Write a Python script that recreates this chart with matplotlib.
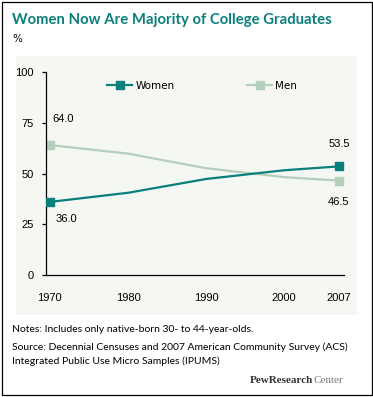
import matplotlib
matplotlib.use("Agg")
import matplotlib.pyplot as plt
from matplotlib.patches import Rectangle

years = [1970, 1980, 1990, 2000, 2007]
women = [36.0, 40.5, 47.3, 51.6, 53.5]
men = [64.0, 59.8, 52.6, 48.2, 46.5]
yticks = [0, 25, 50, 75, 100]

TEAL = "#0a7f7c"
SAGE = "#b4d0bc"
PANEL = "#f5f7f2"

W, H = 373, 397
fig = plt.figure(figsize=(W / 100, H / 100), dpi=100)


def fx(px):
    return px / W


def fy(py):
    return 1 - py / H


# outer frame + light panel behind the plot
fig.add_artist(Rectangle((fx(2), fy(395)), fx(370), (393) / H, transform=fig.transFigure,
                         fill=False, edgecolor="black", linewidth=0.9))
fig.add_artist(Rectangle((fx(16), fy(315)), fx(341), 259 / H, transform=fig.transFigure,
                         facecolor=PANEL, edgecolor="none", zorder=0))

ax = fig.add_axes([fx(46), fy(275), fx(298), 203 / H])
ax.set_facecolor("none")

ax.plot(years, women, color=TEAL, linewidth=1.6, marker="s", markersize=5.5,
        markevery=[0, len(years) - 1], label="Women", zorder=3)
ax.plot(years, men, color=SAGE, linewidth=1.6, marker="s", markersize=5.5,
        markevery=[0, len(years) - 1], label="Men", zorder=2)

ax.set_xlim(1969.5, 2007.65)
ax.set_ylim(0, 100)
ax.set_yticks(yticks)
ax.set_xticks(years)
for s in ["top", "right"]:
    ax.spines[s].set_visible(False)
ax.spines["left"].set_linewidth(0.9)
ax.spines["bottom"].set_linewidth(0.9)
ax.tick_params(axis="y", length=3, width=0.9, pad=6, labelsize=8)
ax.tick_params(axis="x", length=0, pad=13, labelsize=8)
for lab in ax.get_xticklabels() + ax.get_yticklabels():
    lab.set_fontfamily("Liberation Sans")

lab_kw = dict(textcoords="offset points", fontsize=8, family="Liberation Sans", va="center")
ax.annotate(f"{men[0]:.1f}", (years[0], men[0]), xytext=(1.5, 19), ha="left", **lab_kw)
ax.annotate(f"{women[0]:.1f}", (years[0], women[0]), xytext=(4, -12.5), ha="left", **lab_kw)
ax.annotate(f"{women[-1]:.1f}", (years[-1], women[-1]), xytext=(0, 16), ha="center", **lab_kw)
ax.annotate(f"{men[-1]:.1f}", (years[-1], men[-1]), xytext=(0, -15.5), ha="center", **lab_kw)

leg = ax.legend(loc="center left", bbox_to_anchor=(0.205, 0.931), ncol=2, frameon=False,
                borderpad=0, borderaxespad=0, handlelength=2.4, handletextpad=0.3,
                columnspacing=7.0, numpoints=1, prop={"family": "DejaVu Sans", "size": 7.5})

fig.text(fx(12), fy(20), "Women Now Are Majority of College Graduates", color=TEAL,
         fontsize=10.7, fontweight="bold", family="Lato", va="center", ha="left")
fig.text(fx(12), fy(39), "%", fontsize=7.5, family="DejaVu Sans", va="center", ha="left")

note_kw = dict(fontsize=7.45, family="Lato", va="center", ha="left")
fig.text(fx(12), fy(329), "Notes: Includes only native-born 30- to 44-year-olds.", **note_kw)
fig.text(fx(12), fy(347), "Source: Decennial Censuses and 2007 American Community Survey (ACS)", **note_kw)
fig.text(fx(12), fy(361), "Integrated Public Use Micro Samples (IPUMS)", **note_kw)

t1 = fig.text(fx(343), fy(383), "Center", fontsize=8, family="Liberation Serif",
              color="#777777", ha="right", va="baseline")
ax.annotate("PewResearch", xy=(0, 0), xycoords=t1, fontsize=8, family="Liberation Serif",
            fontweight="bold", color="#333333", ha="right", va="bottom", annotation_clip=False)

fig.savefig("out.png", dpi=100)
